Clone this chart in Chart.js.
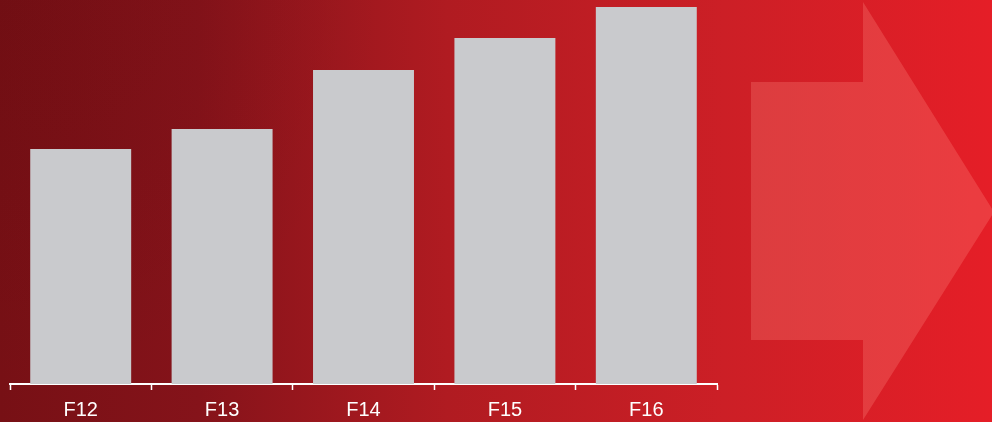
<!DOCTYPE html>
<html>
<head>
<meta charset="utf-8">
<script src="https://cdn.jsdelivr.net/npm/chart.js@4.4.1/dist/chart.umd.min.js"></script>
<style>
  html, body { margin: 0; padding: 0; background: #8a1419; }
  #wrap { width: 992px; height: 422px; position: relative; }
</style>
</head>
<body>
<div id="wrap"><canvas id="chart" width="992" height="422"></canvas></div>
<script>
// Fiscal years and bar heights (relative units)
const years = ['F12', 'F13', 'F14', 'F15', 'F16'];
const values = [235, 255, 314, 346, 377];
const scaleMax = 377;

// Red backdrop with a faint arrow on the right
const backdrop = {
  id: 'backdrop',
  beforeDraw(chart) {
    const ctx = chart.ctx;
    const w = chart.width, h = chart.height;
    ctx.save();
    const g = ctx.createLinearGradient(0, 0, w, 0);
    g.addColorStop(0, '#771015');
    g.addColorStop(0.2, '#85131a');
    g.addColorStop(0.45, '#b01b21');
    g.addColorStop(0.73, '#cc1f26');
    g.addColorStop(1, '#e51e27');
    ctx.fillStyle = g;
    ctx.fillRect(0, 0, w, h);
    // slightly darker top-left corner
    const r = ctx.createRadialGradient(0, 0, 10, 0, 0, 380);
    r.addColorStop(0, 'rgba(80,5,10,0.15)');
    r.addColorStop(1, 'rgba(80,5,10,0)');
    ctx.fillStyle = r;
    ctx.fillRect(0, 0, w, h);
    // arrow
    ctx.fillStyle = 'rgba(255,140,130,0.28)';
    ctx.beginPath();
    ctx.moveTo(751, 82);
    ctx.lineTo(863, 82);
    ctx.lineTo(863, 2);
    ctx.lineTo(994, 212);
    ctx.lineTo(863, 420);
    ctx.lineTo(863, 340);
    ctx.lineTo(751, 340);
    ctx.closePath();
    ctx.fill();
    ctx.restore();
  }
};

new Chart(document.getElementById('chart'), {
  type: 'bar',
  data: {
    labels: years,
    datasets: [{
      data: values,
      backgroundColor: '#c9cacd',
      borderWidth: 0,
      categoryPercentage: 1,
      barPercentage: 0.714
    }]
  },
  options: {
    responsive: false,
    animation: false,
    layout: { padding: { top: 7, left: 10, right: 275, bottom: 0 } },
    plugins: { legend: { display: false }, tooltip: { enabled: false } },
    scales: {
      y: { display: false, min: 0, max: scaleMax },
      x: {
        offset: true,
        afterFit(scale) { scale.height = 38; },
        border: { display: true, color: '#ffffff', width: 2 },
        grid: {
          display: true,
          offset: true,
          drawOnChartArea: false,
          drawTicks: true,
          tickLength: 6,
          tickWidth: 1.5,
          tickColor: '#ffffff'
        },
        ticks: {
          color: '#ffffff',
          padding: 8,
          font: { family: 'Liberation Sans, Arial, sans-serif', size: 20 }
        }
      }
    }
  },
  plugins: [backdrop]
});
</script>
</body>
</html>
